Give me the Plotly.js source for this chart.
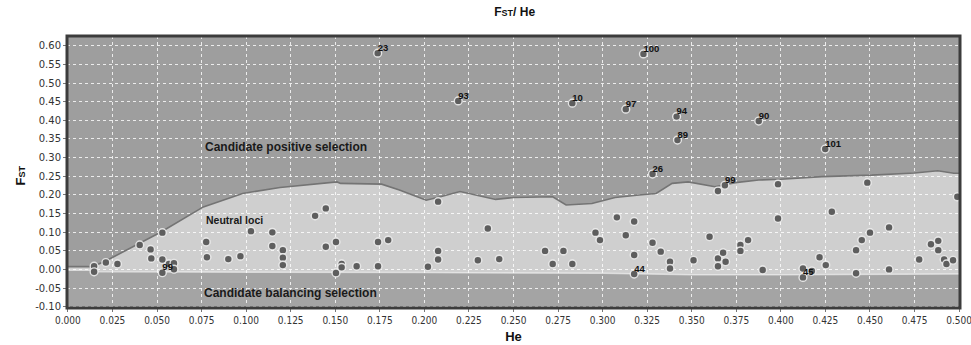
<!DOCTYPE html>
<html>
<head>
<meta charset="utf-8">
<script src="https://cdn.plot.ly/plotly-3.0.1.min.js"></script>
<style>html,body{margin:0;padding:0;background:#fff;}#chart{width:971px;height:345px;}</style>
</head>
<body>
<div id="chart"></div>
<script>
// Upper boundary of neutral region (He, FST)
const upperHe  = [0, 0.014, 0.022, 0.052, 0.076, 0.098, 0.119, 0.151, 0.153, 0.164, 0.176, 0.186, 0.201, 0.209, 0.22, 0.24, 0.25, 0.272, 0.2795, 0.294, 0.307, 0.3205, 0.33, 0.339, 0.348, 0.363, 0.3745, 0.3876, 0.40, 0.423, 0.451, 0.475, 0.488, 0.497, 0.5];
const upperFst = [0.008, 0.008, 0.025, 0.10, 0.168, 0.204, 0.22, 0.235, 0.231, 0.231, 0.229, 0.213, 0.186, 0.195, 0.209, 0.188, 0.193, 0.195, 0.173, 0.177, 0.193, 0.20, 0.204, 0.231, 0.235, 0.222, 0.233, 0.24, 0.242, 0.249, 0.253, 0.259, 0.265, 0.258, 0.258];
// Lower boundary of neutral region
const lowerHe  = [0, 0.014, 0.016, 0.1, 0.2, 0.3, 0.33, 0.35, 0.4, 0.45, 0.5];
const lowerFst = [-0.002, -0.002, -0.006, -0.006, -0.008, -0.010, -0.012, -0.014, -0.014, -0.013, -0.012];

// Loci
const lociHe  = [0.0147, 0.0147, 0.0213, 0.0278, 0.0403, 0.0464, 0.0468, 0.053, 0.053, 0.053, 0.0567, 0.0595, 0.0595,
  0.0776, 0.078, 0.090, 0.0968, 0.1027, 0.1147, 0.1147, 0.1206, 0.1206, 0.1206, 0.1387, 0.1447, 0.1447, 0.1504, 0.1504,
  0.1536, 0.1536, 0.162, 0.174, 0.1797, 0.174, 0.202, 0.2077, 0.2077, 0.2077, 0.230, 0.2356, 0.242, 0.2677, 0.272, 0.278,
  0.283, 0.296, 0.2985, 0.308, 0.313, 0.3177, 0.3177, 0.3177, 0.328, 0.3326, 0.3378, 0.3378, 0.351, 0.360, 0.3647, 0.3686,
  0.3647, 0.3676, 0.3647, 0.369, 0.3773, 0.3773, 0.3816, 0.3898, 0.3984, 0.3984, 0.4124, 0.4124, 0.4174, 0.4217, 0.4252,
  0.4286, 0.4422, 0.4454, 0.450, 0.4422, 0.4485, 0.4607, 0.4607, 0.4776, 0.4842, 0.4883, 0.4883, 0.4916, 0.4929, 0.4966, 0.499,
  0.1738, 0.219, 0.283, 0.3229, 0.313, 0.3415, 0.342, 0.3876, 0.4249, 0.328];
const lociFst = [0.009, -0.006, 0.019, 0.015, 0.066, 0.054, 0.030, 0.099, 0.027, -0.0085, 0.015, 0.017, 0.001,
  0.074, 0.033, 0.028, 0.036, 0.103, 0.0997, 0.063, 0.052, 0.032, 0.012, 0.144, 0.164, 0.061, 0.074, -0.009,
  0.015, 0.006, 0.009, 0.074, 0.079, 0.009, 0.0075, 0.182, 0.050, 0.027, 0.025, 0.110, 0.028, 0.050, 0.015, 0.050,
  0.015, 0.099, 0.079, 0.140, 0.092, 0.129, 0.039, -0.012, 0.072, 0.048, 0.021, 0.003, 0.025, 0.088, 0.2105, 0.226,
  0.030, 0.045, 0.009, 0.021, 0.066, 0.050, 0.079, -0.001, 0.229, 0.137, 0.003, -0.021, -0.004, 0.033, 0.012,
  0.155, 0.052, 0.079, 0.099, -0.010, 0.233, 0.113, 0.0005, 0.027, 0.068, 0.077, 0.052, 0.027, 0.015, 0.025, 0.195,
  0.580, 0.452, 0.446, 0.578, 0.430, 0.410, 0.347, 0.398, 0.323, 0.256];

// Labelled loci
const labHe   = [0.1738, 0.219, 0.283, 0.3229, 0.313, 0.3415, 0.342, 0.3876, 0.4249, 0.328, 0.3686, 0.053, 0.3177, 0.4124];
const labFst  = [0.580, 0.452, 0.446, 0.578, 0.430, 0.410, 0.347, 0.398, 0.323, 0.256, 0.226, -0.0085, -0.012, -0.021];
const labText = ["23", "93", "10", "100", "97", "94", "89", "90", "101", "26", "99", "99", "44", "45"];

// Axis ticks
const xTickVals = [0, 0.025, 0.05, 0.075, 0.1, 0.125, 0.15, 0.175, 0.2, 0.225, 0.25, 0.275, 0.3, 0.325, 0.35, 0.375, 0.4, 0.425, 0.45, 0.475, 0.5];
const xTickText = ["0.000","0.025","0.050","0.075","0.100","0.125","0.150","0.175","0.200","0.225","0.250","0.275","0.300","0.325","0.350","0.375","0.400","0.425","0.450","0.475","0.500"];
const yTickVals = [0.6, 0.55, 0.5, 0.45, 0.4, 0.35, 0.3, 0.25, 0.2, 0.15, 0.1, 0.05, 0, -0.05, -0.1];
const yTickText = ["0.60","0.55","0.50","0.45","0.40","0.35","0.30","0.25","0.20","0.15","0.10","0.05","0.00","-0.05","-0.10"];

const bottomHe = [0, 0.5];
const bottomFst = [-0.2, -0.2];

const boldFont = 'Liberation Sans, Arial, sans-serif';
const tickFamily = 'DejaVu Sans Condensed, DejaVu Sans, sans-serif';

const traces = [
  {x: bottomHe, y: bottomFst, mode: 'lines', line: {width: 0}, hoverinfo: 'skip', showlegend: false},
  {x: lowerHe, y: lowerFst, mode: 'lines', fill: 'tonexty', fillcolor: 'rgba(255,255,255,0.07)',
   line: {color: 'rgba(255,255,255,0.55)', width: 1.5}, hoverinfo: 'skip', showlegend: false},
  {x: upperHe, y: upperFst, mode: 'lines', fill: 'tonexty', fillcolor: 'rgba(255,255,255,0.5)',
   line: {color: '#747474', width: 1.6}, hoverinfo: 'skip', showlegend: false},
  {x: lociHe, y: lociFst, mode: 'markers', showlegend: false,
   marker: {size: 7.8, color: '#5e5e5e', line: {color: 'rgba(245,245,245,0.85)', width: 1.4}}},
  {x: labHe, y: labFst, mode: 'text', text: labText, textposition: 'top right', showlegend: false,
   textfont: {family: boldFont, size: 9.5, color: '#111', weight: 'bold'}}
];

const layout = {
  width: 971, height: 345,
  margin: {l: 67, r: 11, t: 36, b: 37},
  paper_bgcolor: '#ffffff',
  plot_bgcolor: '#9e9e9e',
  showlegend: false,
  title: {text: 'F<span style="font-size:9px">ST</span>/ He', x: 0.53, xanchor: 'center', y: 0.965, yanchor: 'middle',
          font: {family: boldFont, size: 12, color: '#111', weight: 'bold'}},
  xaxis: {
    range: [-0.0005, 0.5005], tickvals: xTickVals, ticktext: xTickText, ticklabeloverflow: 'allow',
    showgrid: true, gridcolor: 'rgba(255,255,255,0.8)', griddash: 'dot', gridwidth: 1,
    zeroline: false, ticks: 'outside', ticklen: 3, tickcolor: '#777',
    tickfont: {family: tickFamily, size: 10, color: '#333'},
    title: {text: 'He', standoff: 6, font: {family: boldFont, size: 13, color: '#111', weight: 'bold'}}
  },
  yaxis: {
    range: [-0.103, 0.626], tickvals: yTickVals, ticktext: yTickText,
    showgrid: true, gridcolor: 'rgba(255,255,255,0.8)', griddash: 'dot', gridwidth: 1,
    zeroline: false, ticks: 'outside', ticklen: 3, tickcolor: '#777',
    tickfont: {family: 'DejaVu Sans, sans-serif', size: 10, color: '#333'}
  },
  shapes: [
    {type: 'rect', xref: 'paper', yref: 'paper', x0: 0, x1: 1, y0: 0, y1: 1, layer: 'above',
     line: {color: '#3c3c3c', width: 3}}
  ],
  annotations: [
    {xref: 'paper', yref: 'paper', x: 0, y: 0.487, xshift: -46, xanchor: 'center', yanchor: 'middle',
     text: 'F<span style="font-size:9px">ST</span>', textangle: -90,
     showarrow: false, font: {family: boldFont, size: 13, color: '#111', weight: 'bold'}},
    {x: 0.1222, y: 0.329, text: 'Candidate positive selection', showarrow: false,
     font: {family: boldFont, size: 12, color: '#1a1a1a', weight: 'bold'}},
    {x: 0.0937, y: 0.133, text: 'Neutral loci', showarrow: false,
     font: {family: boldFont, size: 10.5, color: '#1a1a1a', weight: 'bold'}},
    {x: 0.1247, y: -0.064, text: 'Candidate balancing selection', showarrow: false,
     font: {family: boldFont, size: 12, color: '#1a1a1a', weight: 'bold'}}
  ]
};

Plotly.newPlot('chart', traces, layout, {displayModeBar: false, staticPlot: true});
</script>
</body>
</html>
